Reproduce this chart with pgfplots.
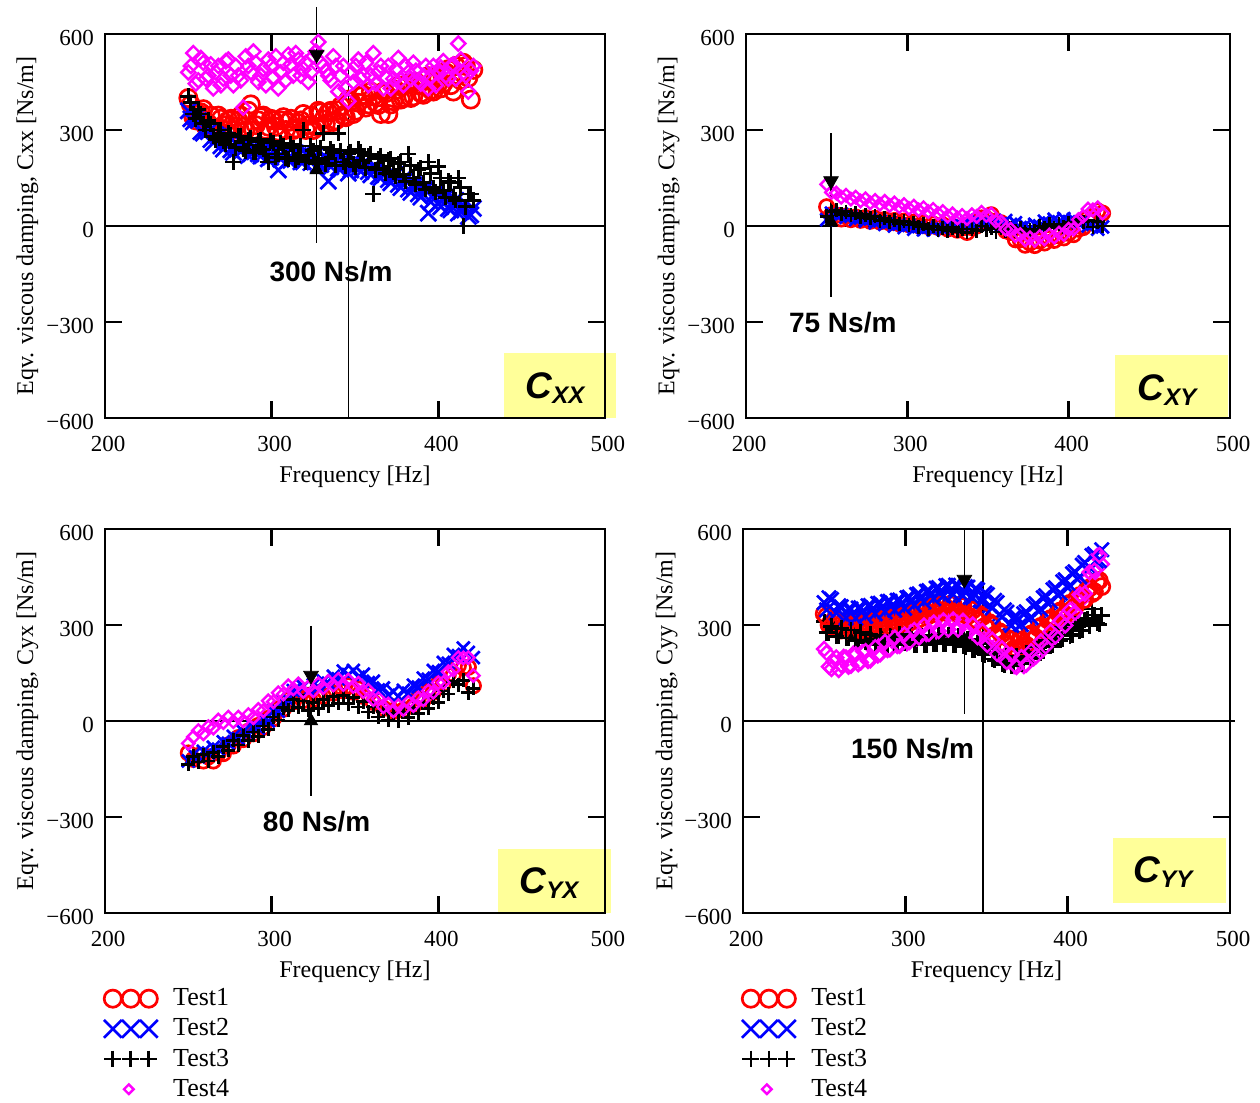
\documentclass[border=0pt]{standalone}
\usepackage{fontspec}
\setmainfont{Liberation Serif}
\setsansfont{Liberation Sans}
\usepackage{pgfplots}
\usepackage{pgfplotstable}
\pgfplotsset{compat=1.18}
\definecolor{tyellow}{RGB}{255,255,153}
\definecolor{tred}{RGB}{255,0,0}
\definecolor{tblue}{RGB}{0,0,255}
\definecolor{tmag}{RGB}{255,0,255}

% Cxx
\pgfplotstableread{
f a b c d
250 400 360 405 480
253 340 325 350 540
256 350 330 365 455
259 365 290 320 510
262 320 295 330 470
265 300 260 280 430
268 345 280 300 500
271 315 240 265 460
274 330 262 290 520
277 300 230 200 440
280 330 250 280 470
283 310 255 240 370
286 360 220 270 500
289 300 248 230 545
292 330 225 265 450
295 345 240 240 490
298 310 210 200 520
301 330 235 260 465
304 295 175 225 430
307 340 232 250 510
310 325 205 210 535
313 300 228 245 470
316 322 220 215 520
319 350 200 300 490
322 315 225 220 450
325 300 215 235 530
328 360 190 205 575
331 333 218 290 500
334 355 140 210 470
337 325 205 230 530
340 362 180 290 420
343 345 200 200 500
346 395 165 225 390
349 350 195 195 450
352 385 180 240 520
355 410 192 205 470
358 380 170 220 440
361 405 185 100 540
364 378 155 210 480
367 420 172 180 430
370 350 145 205 500
373 390 160 170 460
376 438 130 195 525
379 400 148 160 440
382 445 115 225 480
385 405 130 150 510
388 440 100 175 455
391 410 118 135 470
394 468 40 200 430
397 420 95 120 500
400 460 70 185 480
403 445 88 110 515
406 490 55 140 460
409 420 75 90 505
412 470 40 150 570
415 510 65 0 480
418 463 30 100 420
421 488 55 80 500
}\tabXX
\pgfplotstableread{
f a b c d
251.5 380 335 385 500
254.5 330 340 335 445
257.5 355 295 350 525
260.5 310 305 300 460
263.5 345 270 320 505
266.5 305 285 270 480
269.5 335 250 300 440
272.5 300 268 255 515
275.5 335 238 285 470
278.5 310 258 245 500
281.5 345 232 280 455
284.5 300 250 235 530
287.5 380 225 275 480
290.5 315 245 230 510
293.5 340 218 270 470
296.5 300 240 225 440
299.5 335 215 265 500
302.5 310 233 215 530
305.5 330 208 258 480
308.5 300 230 212 455
311.5 335 205 255 505
314.5 305 228 205 540
317.5 330 200 250 470
320.5 300 225 200 510
323.5 345 198 250 480
326.5 310 222 195 545
329.5 355 192 245 510
332.5 320 215 195 485
335.5 360 185 240 455
338.5 330 210 190 500
341.5 375 178 235 470
344.5 340 205 188 430
347.5 390 175 232 480
350.5 360 200 185 500
353.5 405 170 230 460
356.5 370 195 182 510
359.5 420 160 225 470
362.5 385 185 175 445
365.5 350 150 220 500
368.5 415 175 165 465
371.5 380 135 210 430
374.5 425 160 155 490
377.5 395 120 200 455
380.5 440 145 140 500
383.5 400 105 190 460
386.5 450 130 130 485
389.5 415 90 180 445
392.5 460 115 115 500
395.5 425 75 165 465
398.5 470 105 105 440
401.5 430 60 150 495
404.5 480 90 90 470
407.5 440 50 135 500
410.5 500 80 80 460
413.5 455 45 120 520
416.5 500 70 60 470
419.5 395 35 100 485
}\tabXXb

% Cxy
\pgfplotstableread{
f a b c d
250 60 20 30 130
253 35 40 45 105
256 34 33 50 103
259 22 38 36 90
262 31 27 45 96
265 20 30 33 84
268 28 20 40 90
271 18 25 27 78
274 26 15 35 85
277 15 22 24 72
280 24 10 30 80
283 13 16 17 68
286 20 5 25 77
289 10 12 12 64
292 17 0 19 72
295 7 6 7 60
298 15 -5 15 67
301 4 2 3 55
304 12 -10 10 62
307 1 -2 -2 50
310 10 -12 5 57
313 -2 -4 -8 45
316 6 -13 -1 52
319 -4 -3 -13 39
322 3 -10 -5 45
325 -9 2 -15 31
328 -1 -5 -5 38
331 -13 8 -17 25
334 -6 0 -9 33
337 -20 13 -20 23
340 -5 5 -9 35
343 0 17 -15 30
346 25 7 0 43
349 23 15 -13 33
352 35 3 -7 37
355 15 13 -19 15
358 10 5 -7 13
361 -15 17 -15 -10
364 -20 5 -5 -10
367 -43 10 -16 -30
370 -43 -5 -7 -27
373 -60 2 -19 -43
376 -53 -10 -11 -37
379 -61 5 -15 -45
382 -47 0 0 -33
385 -53 15 -7 -41
388 -39 9 5 -28
391 -45 21 -5 -35
394 -31 13 5 -22
397 -37 23 -3 -27
400 -23 13 10 -10
403 -27 21 5 -10
406 -10 9 20 20
409 -5 15 13 30
412 25 0 17 53
415 30 5 -3 50
418 47 -10 13 57
421 40 -3 0 40
}\tabXY

% Cyx
\pgfplotstableread{
f a b c d
250 -100 -125 -135 -70
253 -120 -105 -110 -50
256 -108 -112 -128 -30
259 -125 -95 -105 -40
262 -112 -100 -125 -18
265 -125 -82 -98 -22
268 -100 -88 -112 3
271 -102 -65 -80 -5
274 -75 -70 -92 12
277 -78 -48 -60 -2
280 -52 -55 -75 12
283 -58 -33 -45 0
286 -32 -40 -62 20
289 -40 -18 -34 10
292 -14 -22 -48 36
295 -20 2 -16 32
298 8 0 -26 63
301 7 30 12 60
304 38 30 3 88
307 37 62 42 84
310 66 65 33 110
313 60 95 67 100
316 80 90 43 116
319 64 108 62 92
322 80 95 33 106
325 67 113 57 94
328 88 105 38 116
331 77 125 67 104
334 98 118 48 124
337 87 140 77 112
340 108 132 55 130
343 94 156 80 114
346 110 145 54 128
349 90 158 74 108
352 100 137 44 118
355 77 146 60 92
358 84 120 28 96
361 58 124 44 67
364 64 97 12 70
367 40 103 30 44
370 50 80 2 53
373 30 92 24 32
376 46 76 0 48
379 34 96 28 36
382 56 87 10 58
385 47 112 40 48
388 72 106 24 72
391 66 134 56 66
394 94 130 40 94
397 90 158 72 90
400 118 154 58 120
403 116 183 94 120
406 146 180 84 154
409 144 208 124 160
412 173 204 113 198
415 167 228 127 197
418 168 214 88 198
421 110 198 102 142
}\tabYX

% Cyy
\pgfplotstableread{
f a b c d
250 335 370 310 225
253 300 385 275 170
256 315 345 295 185
259 285 360 265 160
262 310 325 290 200
265 282 350 260 170
268 308 320 282 210
271 284 353 252 178
274 311 325 277 218
277 288 360 246 188
280 315 333 271 225
283 292 367 240 205
286 321 340 267 245
289 298 373 238 222
292 325 345 267 258
295 302 377 242 235
298 329 350 275 267
301 306 385 244 243
304 335 360 270 280
307 316 395 238 258
310 347 370 265 295
313 328 405 238 272
316 358 380 269 305
319 336 415 242 280
322 363 390 271 313
325 340 423 241 287
328 365 395 269 317
331 338 425 238 290
334 361 393 265 315
337 332 420 231 282
340 351 387 255 305
343 318 413 221 268
346 333 377 243 287
349 296 400 206 246
352 307 360 227 261
355 268 377 190 218
358 279 333 211 233
361 242 347 176 191
364 257 303 201 210
367 226 325 172 172
370 251 297 205 197
373 232 335 182 172
376 267 317 219 211
379 254 360 198 196
382 291 343 237 240
385 278 385 218 226
388 315 367 257 271
391 302 410 238 258
394 339 393 277 303
397 326 435 256 291
400 363 417 293 337
403 350 460 270 328
406 387 443 307 380
409 374 487 284 381
412 411 473 320 445
415 398 517 350 456
418 435 497 305 515
421 420 535 330 490
}\tabYY
\pgfplotstableread{
f a b c d
251.5 327 347 276 213
254.5 294 380 296 163
257.5 312 337 265 198
260.5 284 357 290 175
263.5 306 322 259 198
266.5 282 350 284 173
269.5 307 321 252 208
272.5 285 354 277 183
275.5 311 327 246 218
278.5 289 361 271 190
281.5 315 335 241 230
284.5 294 368 267 209
287.5 321 341 237 247
290.5 299 374 265 224
293.5 325 346 240 260
296.5 303 378 272 235
299.5 329 352 245 270
302.5 308 387 270 247
305.5 337 362 239 284
308.5 319 397 265 261
311.5 349 372 237 298
314.5 330 407 267 273
317.5 358 382 241 307
320.5 337 417 270 281
323.5 363 391 241 314
326.5 340 424 268 286
329.5 363 395 239 317
332.5 337 424 265 286
335.5 358 391 233 313
338.5 329 418 256 278
341.5 346 385 223 301
344.5 313 410 245 262
347.5 326 373 210 281
350.5 289 395 230 238
353.5 299 353 194 254
356.5 261 370 214 210
359.5 272 325 179 227
362.5 237 340 202 185
365.5 253 299 172 206
368.5 226 326 202 169
371.5 253 301 179 199
374.5 237 341 214 176
377.5 272 323 194 218
380.5 260 366 231 203
383.5 296 349 213 248
386.5 284 391 251 233
389.5 320 373 233 279
392.5 308 416 271 265
395.5 344 399 252 312
398.5 332 441 288 299
401.5 368 423 267 347
404.5 356 466 302 339
407.5 392 450 281 395
410.5 380 495 315 398
413.5 416 480 298 465
416.5 404 522 331 470
419.5 439 501 302 518
}\tabYYb

\tikzset{
  zline/.style={line width=0.85pt, black},
  vline/.style={line width=0.8pt, black},
  annot/.style={font=\sffamily\bfseries\fontsize{14}{14}\selectfont},
}
\pgfplotsset{
  panel/.style={
    scale only axis, clip=false, anchor=south west, height=192pt,
    xmin=200, xmax=500, ymin=-600, ymax=600,
    xtick={200,300,400,500}, xticklabels={200,300,400,500},
    ytick={-600,-300,0,300,600}, yticklabels={−600,−300,0,300,600},
    tick align=inside, major tick length=8.5pt,
    axis line style={line width=1.3pt},
    tick style={line width=1.3pt, black},
    ticklabel style={font=\fontsize{11.5}{13}\selectfont},
    xticklabel style={yshift=-5.5pt, xshift=1.5pt},
    yticklabel style={xshift=-2pt, yshift=-2pt},
    xlabel={Frequency [Hz]},
    xlabel style={font=\fontsize{12}{14}\selectfont, at={(axis description cs:0.5,-0.154)}, anchor=center},
    ylabel style={font=\fontsize{12}{14}\selectfont, anchor=center},
    legend cell align=left,
    legend style={draw=none, fill=none, inner sep=0pt, anchor=north west,
      font=\fontsize{13}{15}\selectfont, row sep=2pt, column sep=6pt,
      nodes={inner sep=1.5pt}},
  },
  s1/.style={only marks, color=tred, mark=o, mark size=#1, mark options={line width=1.35pt}},
  s2/.style={only marks, color=tblue, mark=x, mark size=#1, mark options={line width=1.35pt}},
  s3/.style={only marks, color=black, mark=+, mark size=#1, mark options={line width=1.35pt}},
  s4/.style={only marks, color=tmag, mark=square, mark size=#1, mark options={rotate=45, line width=1.2pt}},
  lgthree/.style={legend image code/.code={\draw[##1, mark size=#1] plot coordinates {(4.5pt,0pt) (13.5pt,0pt) (22.5pt,0pt)};}},
  lgone/.style={legend image code/.code={\path (0pt,-4pt) (27pt,4pt); \draw[##1, mark size=#1] plot coordinates {(12.5pt,0pt)};}},
  dtri/.style={only marks, mark=triangle*, mark size=4.2pt, mark options={rotate=180, fill=black, draw=black}, forget plot},
  utri/.style={only marks, mark=triangle*, mark size=3.8pt, mark options={fill=black, draw=black}, forget plot},
}
\newcommand{\clab}[1]{{\sffamily\bfseries\itshape\fontsize{18.5}{18}\selectfont C}{\sffamily\bfseries\itshape\fontsize{12}{12}\selectfont\raisebox{-2.5pt}{#1}}}

\begin{document}
\begin{tikzpicture}
\path[use as bounding box] (0pt,0pt) rectangle (630pt,551.5pt);
\fill[tyellow] (252pt,342.5pt) rectangle (308pt,375pt);
\fill[tyellow] (557.5pt,342.5pt) rectangle (614pt,374pt);
\fill[tyellow] (249pt,95pt) rectangle (305.5pt,127pt);
\fill[tyellow] (556.5pt,100pt) rectangle (613pt,132.5pt);

% ---- Cxx
\begin{axis}[panel, at={(52.5pt,342.5pt)}, width=250pt,
  ylabel={Eqv. viscous damping, Cxx [Ns/m]},
  ylabel style={at={(axis description cs:-0.155,0.5)}}]
\addplot[s1=4.3pt] table[x=f,y=a]{\tabXX};
\addplot[s1=4.3pt] table[x=f,y=a]{\tabXXb};
\addplot[s2=5.6pt] table[x=f,y=b]{\tabXX};
\addplot[s2=5.6pt] table[x=f,y=b]{\tabXXb};
\addplot[s3=4pt] table[x=f,y=c]{\tabXX};
\addplot[s3=4pt] table[x=f,y=c]{\tabXXb};
\addplot[s4=2.5pt] table[x=f,y=d]{\tabXX};
\addplot[s4=2.5pt] table[x=f,y=d]{\tabXXb};
\draw[zline] (axis cs:200,0) -- (axis cs:500,0);
\draw[vline] (axis cs:346,-600) -- (axis cs:346,600);
\draw[vline] (axis cs:327,685) -- (axis cs:327,-53);
\addplot[dtri] coordinates {(327,536)};
\addplot[utri] coordinates {(327,175)};
\node[annot] at (axis cs:335.6,-144) {300 Ns/m};
\end{axis}

% ---- Cxy
\begin{axis}[panel, at={(373pt,342.5pt)}, width=242pt,
  ylabel={Eqv. viscous damping, Cxy [Ns/m]},
  ylabel style={at={(axis description cs:-0.16,0.5)}}]
\addplot[s1=3.6pt] table[x=f,y=a]{\tabXY};
\addplot[s2=4.5pt] table[x=f,y=b]{\tabXY};
\addplot[s3=3.5pt] table[x=f,y=c]{\tabXY};
\addplot[s4=2.2pt] table[x=f,y=d]{\tabXY};
\draw[zline] (axis cs:200,0) -- (axis cs:500,0);
\draw[vline] (axis cs:252.7,290) -- (axis cs:252.7,-222);
\addplot[dtri] coordinates {(252.7,141)};
\addplot[utri] coordinates {(252.7,12)};
\node[annot] at (axis cs:260,-303) {75 Ns/m};
\end{axis}

% ---- Cyx
\begin{axis}[panel, at={(52.5pt,95pt)}, width=250pt,
  ylabel={Eqv. viscous damping, Cyx [Ns/m]},
  ylabel style={at={(axis description cs:-0.155,0.5)}},
  legend style={at={(axis description cs:-0.004,-0.188)}}]
\addplot[s1=3.6pt, lgthree=4.3pt] table[x=f,y=a]{\tabYX};
\addlegendentry{Test1}
\addplot[s2=4.5pt, lgthree=6.3pt] table[x=f,y=b]{\tabYX};
\addlegendentry{Test2}
\addplot[s3=3.5pt, lgthree=4.2pt] table[x=f,y=c]{\tabYX};
\addlegendentry{Test3}
\addplot[s4=2.2pt, lgone=1.7pt] table[x=f,y=d]{\tabYX};
\addlegendentry{Test4}
\draw[zline] (axis cs:200,0) -- (axis cs:500,0);
\draw[vline] (axis cs:323.6,297) -- (axis cs:323.6,-234);
\addplot[dtri] coordinates {(323.6,142)};
\addplot[utri] coordinates {(323.6,0)};
\node[annot] at (axis cs:327,-316) {80 Ns/m};
\end{axis}

% ---- Cyy
\begin{axis}[panel, at={(371.5pt,95pt)}, width=243.5pt,
  ylabel={Eqv. viscous damping, Cyy [Ns/m]},
  ylabel style={at={(axis description cs:-0.157,0.5)}},
  legend style={at={(axis description cs:-0.004,-0.188)}}]
\addplot[s1=4pt, lgthree=4.3pt] table[x=f,y=a]{\tabYY};
\addlegendentry{Test1}
\addplot[s2=5pt, lgthree=6.3pt] table[x=f,y=b]{\tabYY};
\addlegendentry{Test2}
\addplot[s3=4pt, lgthree=4.2pt] table[x=f,y=c]{\tabYY};
\addlegendentry{Test3}
\addplot[s4=2.5pt, lgone=1.7pt] table[x=f,y=d]{\tabYY};
\addlegendentry{Test4}
\addplot[s1=4pt, forget plot] table[x=f,y=a]{\tabYYb};
\addplot[s2=5pt, forget plot] table[x=f,y=b]{\tabYYb};
\addplot[s3=4pt, forget plot] table[x=f,y=c]{\tabYYb};
\addplot[s4=2.5pt, forget plot] table[x=f,y=d]{\tabYYb};
\draw[zline] (axis cs:200,0) -- (axis cs:503,0);
\draw[vline] (axis cs:348,-600) -- (axis cs:348,600);
\draw[vline] (axis cs:336.4,600) -- (axis cs:336.4,23);
\addplot[dtri] coordinates {(336.4,442)};
\addplot[utri] coordinates {(336.4,253)};
\node[annot] at (axis cs:304.5,-87) {150 Ns/m};
\end{axis}

\node at (277.5pt,357.5pt) {\clab{XX}};
\node at (583.5pt,356.5pt) {\clab{XY}};
\node at (274.5pt,110pt) {\clab{YX}};
\node at (581.5pt,115.5pt) {\clab{YY}};
\end{tikzpicture}
\end{document}
